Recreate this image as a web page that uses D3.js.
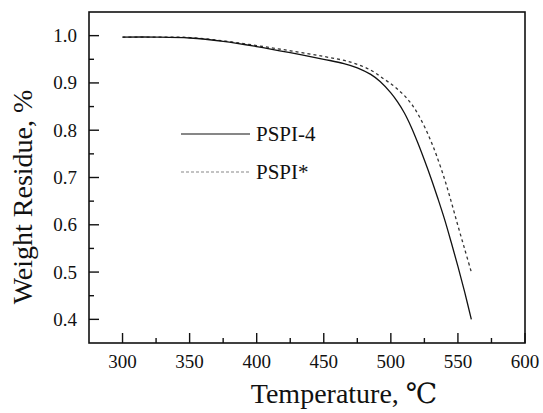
<!DOCTYPE html>
<html><head><meta charset="utf-8">
<script src="https://cdn.jsdelivr.net/npm/d3@7"></script>
<style>body{margin:0;background:#fff}svg{display:block}text{font-family:"Liberation Serif","Times New Roman","DejaVu Serif",serif;fill:#111}</style>
</head><body><svg id="c" width="543" height="413"></svg>
<script>
const pspi4T = [300,325,350,375,400,425,450,465,475,485,492,500,505,510,515,520,525,530,535,540,545,550,555,560];
const pspi4W = [0.997,0.997,0.995,0.988,0.977,0.964,0.950,0.941,0.932,0.918,0.903,0.879,0.860,0.837,0.808,0.774,0.737,0.698,0.656,0.612,0.563,0.512,0.458,0.400];
const pspiStarT = [300,325,350,375,400,425,450,470,485,495,502,508,513,517,521,526,530,534,540,545,550,555,560];
const pspiStarW = [0.997,0.997,0.996,0.989,0.979,0.968,0.956,0.944,0.927,0.908,0.894,0.879,0.864,0.849,0.830,0.802,0.776,0.747,0.697,0.649,0.598,0.549,0.500];
const xTicks = [300,350,400,450,500,550,600];
const xMinor = [325,375,425,475,525,575];
const yTicks = [0.4,0.5,0.6,0.7,0.8,0.9,1.0];
const yMinor = [0.45,0.55,0.65,0.75,0.85,0.95];
const legendNames = ["PSPI-4","PSPI*"];
const xTitle = "Temperature, ℃";
const yTitle = "Weight Residue, %";

const svg = d3.select("#c");
const L=89,R=525,T=12,B=343;
const x = d3.scaleLinear().domain([275,600]).range([L,R]);
const y = d3.scaleLinear().domain([0.35,1.05]).range([B,T]);

const g = svg.append("g");
g.selectAll(".xt").data(xTicks).join("line").attr("x1",d=>x(d)).attr("x2",d=>x(d)).attr("y1",B).attr("y2",B-10).attr("stroke","#111").attr("stroke-width",1.4);
g.selectAll(".xm").data(xMinor).join("line").attr("x1",d=>x(d)).attr("x2",d=>x(d)).attr("y1",B).attr("y2",B-5).attr("stroke","#111").attr("stroke-width",1.4);
g.selectAll(".yt").data(yTicks).join("line").attr("y1",d=>y(d)).attr("y2",d=>y(d)).attr("x1",L).attr("x2",L+10).attr("stroke","#111").attr("stroke-width",1.4);
g.selectAll(".ym").data(yMinor).join("line").attr("y1",d=>y(d)).attr("y2",d=>y(d)).attr("x1",L).attr("x2",L+5).attr("stroke","#111").attr("stroke-width",1.4);

g.selectAll(".xl").data(xTicks).join("text").attr("x",d=>x(d)).attr("y",368).attr("text-anchor","middle").attr("font-size",19).text(d=>d);
g.selectAll(".yl").data(yTicks).join("text").attr("x",77).attr("y",d=>y(d)+6.5).attr("text-anchor","end").attr("font-size",19).text(d=>d.toFixed(1));

svg.append("rect").attr("x",L).attr("y",T).attr("width",R-L).attr("height",B-T).attr("fill","none").attr("stroke","#111").attr("stroke-width",1.6);

const line = d3.line().x(d=>x(d[0])).y(d=>y(d[1])).curve(d3.curveCatmullRom.alpha(0.5));
svg.append("path").datum(pspiStarT.map((t,i)=>[t,pspiStarW[i]])).attr("d",line).attr("fill","none").attr("stroke","#333").attr("stroke-width",1.3).attr("stroke-dasharray","3,3");
svg.append("path").datum(pspi4T.map((t,i)=>[t,pspi4W[i]])).attr("d",line).attr("fill","none").attr("stroke","#111").attr("stroke-width",1.3);

svg.append("line").attr("x1",181).attr("x2",250).attr("y1",134).attr("y2",134).attr("stroke","#111").attr("stroke-width",1.2);
svg.append("line").attr("x1",181).attr("x2",250).attr("y1",172).attr("y2",172).attr("stroke","#888").attr("stroke-width",1.2).attr("stroke-dasharray","3,2");
svg.append("text").attr("x",256).attr("y",141).attr("font-size",21).text(legendNames[0]);
svg.append("text").attr("x",256).attr("y",179).attr("font-size",21).text(legendNames[1]);

svg.append("text").attr("x",344).attr("y",403).attr("text-anchor","middle").attr("font-size",28).text(xTitle);
svg.append("text").attr("transform","translate(32,197) rotate(-90)").attr("text-anchor","middle").attr("font-size",28).text(yTitle);
</script></body></html>
